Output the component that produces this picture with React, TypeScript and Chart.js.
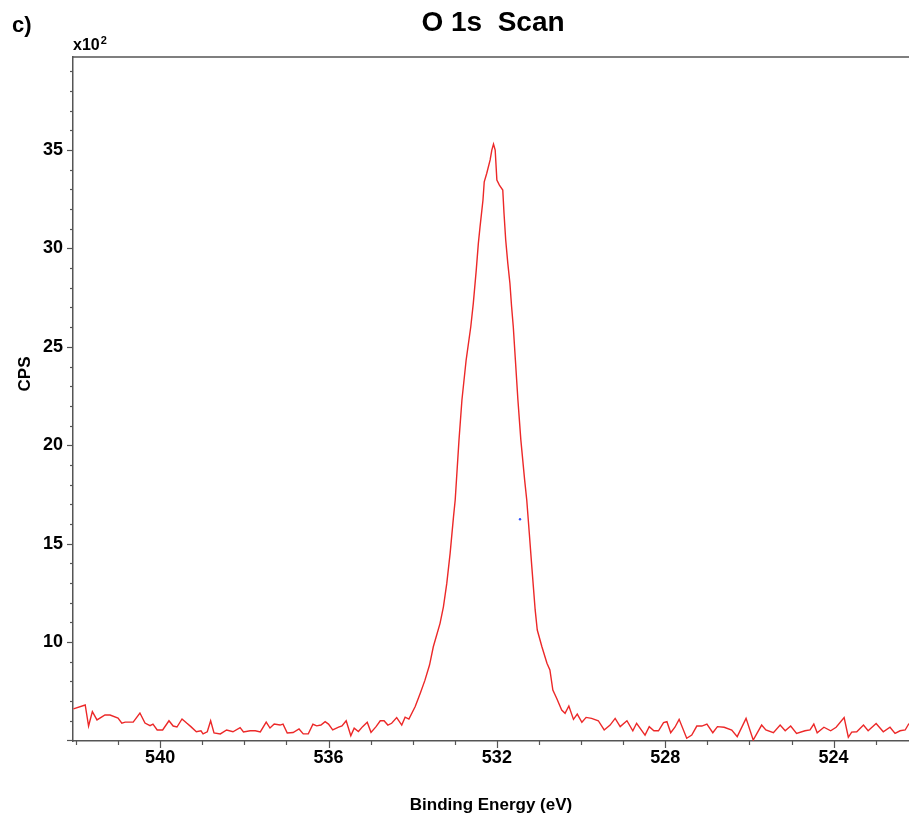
import React, { useEffect, useRef } from "react";
import { Chart, registerables } from "chart.js";

Chart.register(...registerables);

// Binding energy (eV) of each sampled point, left to right
const ENERGY_EV = [
  542.06, 541.78, 541.70, 541.61, 541.50, 541.31, 541.19, 541.00, 540.91, 540.83,
  540.64, 540.48, 540.36, 540.24, 540.17, 540.07, 539.94, 539.79, 539.69, 539.60,
  539.48, 539.37, 539.27, 539.14, 539.03, 538.98, 538.88, 538.80, 538.72, 538.57,
  538.42, 538.27, 538.10, 538.02, 537.86, 537.74, 537.62, 537.48, 537.39, 537.29,
  537.15, 537.08, 536.98, 536.84, 536.70, 536.60, 536.48, 536.37, 536.28, 536.18,
  536.08, 536.00, 535.90, 535.76, 535.68, 535.58, 535.47, 535.39, 535.29, 535.19,
  535.08, 534.99, 534.87, 534.77, 534.68, 534.59, 534.50, 534.38, 534.26, 534.18,
  534.09, 533.94, 533.82, 533.71, 533.60, 533.51, 533.35, 533.27, 533.19, 533.11,
  533.03, 532.99, 532.96, 532.90, 532.83, 532.73, 532.62, 532.56, 532.49, 532.44,
  532.40, 532.33, 532.30, 532.24, 532.16, 532.12, 532.08, 532.04, 532.00, 531.94,
  531.86, 531.83, 531.79, 531.74, 531.69, 531.65, 531.61, 531.56, 531.50, 531.43,
  531.34, 531.29, 531.23, 531.17, 531.09, 531.04, 530.93, 530.81, 530.74, 530.67,
  530.58, 530.46, 530.38, 530.29, 530.18, 530.09, 529.98, 529.88, 529.75, 529.59,
  529.45, 529.31, 529.19, 529.07, 528.91, 528.77, 528.68, 528.48, 528.38, 528.27,
  528.16, 528.04, 527.96, 527.87, 527.77, 527.67, 527.49, 527.37, 527.25, 527.13,
  527.01, 526.87, 526.76, 526.60, 526.42, 526.29, 526.08, 525.91, 525.71, 525.61,
  525.43, 525.27, 525.15, 525.02, 524.88, 524.68, 524.56, 524.47, 524.39, 524.23,
  524.07, 523.94, 523.75, 523.65, 523.57, 523.45, 523.29, 523.18, 522.99, 522.82,
  522.66, 522.54, 522.42, 522.30, 522.21,
];

// Counts per second, in units of x10^2
const CPS_X100 = [
  6.60, 6.80, 5.73, 6.46, 6.04, 6.29, 6.29, 6.14, 5.88, 5.93,
  5.93, 6.39, 5.88, 5.75, 5.83, 5.53, 5.53, 6.00, 5.73, 5.68,
  6.09, 5.88, 5.70, 5.44, 5.49, 5.33, 5.44, 6.00, 5.38, 5.33,
  5.53, 5.44, 5.65, 5.43, 5.49, 5.49, 5.43, 5.93, 5.63, 5.83,
  5.78, 5.83, 5.38, 5.40, 5.58, 5.33, 5.33, 5.82, 5.74, 5.78,
  5.95, 5.83, 5.53, 5.67, 5.74, 6.00, 5.24, 5.62, 5.45, 5.70,
  5.92, 5.41, 5.70, 6.00, 6.00, 5.78, 5.87, 6.16, 5.78, 6.18,
  6.08, 6.72, 7.40, 8.05, 8.83, 9.76, 10.95, 11.79, 12.98, 14.52,
  16.37, 17.22, 18.23, 20.26, 22.30, 24.33, 26.02, 27.21, 28.90, 30.26,
  31.10, 32.46, 33.39, 33.82, 34.50, 35.00, 35.30, 35.00, 33.48, 33.22,
  32.97, 31.78, 30.43, 29.24, 28.23, 27.04, 26.02, 24.33, 22.30, 20.26,
  18.23, 17.22, 15.54, 13.83, 11.63, 10.61, 9.76, 8.92, 8.58, 7.56,
  7.14, 6.54, 6.38, 6.75, 6.07, 6.34, 5.92, 6.17, 6.12, 6.00,
  5.53, 5.78, 6.12, 5.70, 6.00, 5.49, 5.87, 5.27, 5.70, 5.49,
  5.49, 5.90, 5.95, 5.39, 5.67, 6.07, 5.11, 5.27, 5.73, 5.73,
  5.83, 5.39, 5.70, 5.67, 5.53, 5.19, 6.12, 5.02, 5.78, 5.53,
  5.39, 5.78, 5.49, 5.73, 5.36, 5.49, 5.53, 5.83, 5.39, 5.67,
  5.49, 5.67, 6.16, 5.16, 5.42, 5.44, 5.78, 5.49, 5.86, 5.44,
  5.67, 5.36, 5.49, 5.53, 5.86,
];

// Single stray marker (blue)
const STRAY_ENERGY = [531.45];
const STRAY_CPS = [16.24];

const X_TICKS = [540, 536, 532, 528, 524];
const Y_TICKS = [10, 15, 20, 25, 30, 35];

const X_MIN = 521.71;
const X_MAX = 542.07;
const Y_MIN = 4.97;
const Y_MAX = 39.73;

const FONT = '"Liberation Sans", Arial, Helvetica, sans-serif';
const AXIS_COLOR = "#555555";

const decorPlugin = {
  id: "decor",
  afterDraw(chart: any) {
    const ctx = chart.ctx;
    const a = chart.chartArea;
    const xs = chart.scales.x;
    const ys = chart.scales.y;
    ctx.save();
    ctx.strokeStyle = AXIS_COLOR;
    ctx.lineWidth = 1.5;
    ctx.beginPath();
    ctx.moveTo(a.left, a.top);
    ctx.lineTo(a.right, a.top);
    ctx.stroke();

    ctx.lineWidth = 1.2;
    for (let v = Math.ceil(Y_MIN); v <= Math.floor(Y_MAX); v++) {
      const y = Math.round(ys.getPixelForValue(v)) + 0.5;
      const len = v % 5 === 0 ? 6 : 3;
      ctx.beginPath();
      ctx.moveTo(a.left - len, y);
      ctx.lineTo(a.left, y);
      ctx.stroke();
    }
    for (let v = Math.ceil(X_MIN); v <= Math.floor(X_MAX); v++) {
      const x = Math.round(xs.getPixelForValue(v)) + 0.5;
      const len = v % 4 === 0 ? 7 : 4;
      ctx.beginPath();
      ctx.moveTo(x, a.bottom);
      ctx.lineTo(x, a.bottom + len);
      ctx.stroke();
    }

    ctx.fillStyle = "#000";
    ctx.textBaseline = "alphabetic";
    ctx.textAlign = "left";
    ctx.font = `bold 22px ${FONT}`;
    ctx.fillText("c)", 12, 32);

    ctx.textAlign = "center";
    ctx.font = `bold 28px ${FONT}`;
    ctx.fillText("O 1s  Scan", 493, 31);

    ctx.textAlign = "left";
    ctx.font = `bold 16px ${FONT}`;
    ctx.fillText("x10", 73, 50);
    const w = ctx.measureText("x10").width;
    ctx.font = `bold 11px ${FONT}`;
    ctx.fillText("2", 73 + w + 1, 44);

    ctx.textAlign = "center";
    ctx.font = `bold 17px ${FONT}`;
    ctx.fillText("Binding Energy (eV)", 491, 810);

    ctx.translate(25, 374);
    ctx.rotate(-Math.PI / 2);
    ctx.textBaseline = "middle";
    ctx.fillText("CPS", 0, 0);
    ctx.restore();
  },
};

export default function App() {
  const canvasRef = useRef<HTMLCanvasElement | null>(null);

  useEffect(() => {
    if (!canvasRef.current) return;
    const lineData = ENERGY_EV.map((e, i) => ({ x: e, y: CPS_X100[i] }));
    const strayData = STRAY_ENERGY.map((e, i) => ({ x: e, y: STRAY_CPS[i] }));
    const chart = new Chart(canvasRef.current, {
      type: "line",
      data: {
        datasets: [
          {
            type: "line",
            data: lineData,
            borderColor: "rgb(236,40,40)",
            borderWidth: 1.4,
            pointRadius: 0,
            tension: 0,
            fill: false,
          },
          {
            type: "scatter",
            data: strayData,
            pointRadius: 1.2,
            pointBackgroundColor: "#3355ff",
            pointBorderWidth: 0,
            showLine: false,
          } as any,
        ],
      },
      options: {
        animation: false,
        responsive: false,
        devicePixelRatio: 1,
        layout: { padding: { top: 57, right: 10, left: 0, bottom: 0 } },
        plugins: {
          legend: { display: false },
          title: { display: false },
          tooltip: { enabled: false },
        },
        scales: {
          x: {
            type: "linear",
            reverse: true,
            min: X_MIN,
            max: X_MAX,
            afterFit: (s: any) => {
              s.height = 81;
            },
            afterBuildTicks: (s: any) => {
              s.ticks = X_TICKS.map((v) => ({ value: v }));
            },
            grid: { display: false, drawTicks: false },
            border: { display: true, color: AXIS_COLOR, width: 1.5 },
            ticks: {
              color: "#000",
              font: { family: FONT, size: 18, weight: "bold" },
              padding: 6,
              autoSkip: false,
              maxRotation: 0,
              callback: (v: any) => String(v),
            },
          },
          y: {
            type: "linear",
            min: Y_MIN,
            max: Y_MAX,
            afterFit: (s: any) => {
              s.width = 73;
            },
            afterBuildTicks: (s: any) => {
              s.ticks = Y_TICKS.map((v) => ({ value: v }));
            },
            grid: { display: false, drawTicks: false },
            border: { display: true, color: AXIS_COLOR, width: 1.5 },
            ticks: {
              color: "#000",
              font: { family: FONT, size: 18, weight: "bold" },
              padding: 10,
              autoSkip: false,
              callback: (v: any) => String(v),
            },
          },
        },
      },
      plugins: [decorPlugin],
    });
    return () => chart.destroy();
  }, []);

  return (
    <div
      style={{
        position: "fixed",
        left: 0,
        top: 0,
        width: 909,
        height: 822,
        overflow: "hidden",
        background: "#fff",
      }}
    >
      <canvas ref={canvasRef} width={940} height={822} style={{ display: "block" }} />
    </div>
  );
}
